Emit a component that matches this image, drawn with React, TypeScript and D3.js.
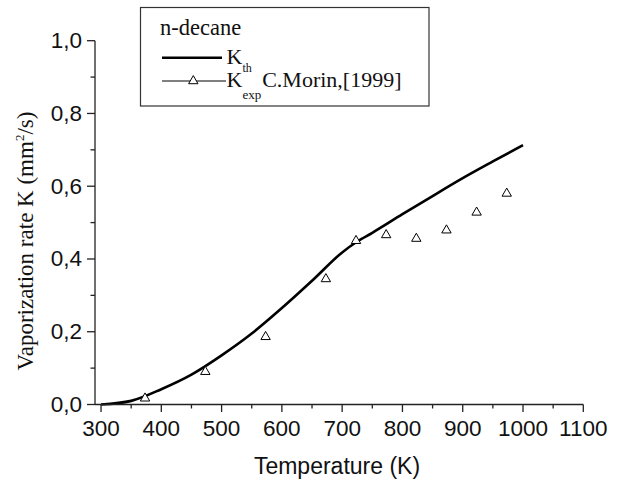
import * as d3 from "d3";

const W = 627;
const H = 481;

// theoretical vaporization rate K_th (mm²/s) vs temperature (K)
const thTemp = [300, 350, 400, 450, 500, 550, 600, 650, 700, 725, 750, 800, 850, 900, 950, 1000];
const thK = [0, 0.01, 0.042, 0.082, 0.135, 0.195, 0.265, 0.34, 0.418, 0.448, 0.472, 0.523, 0.573, 0.622, 0.668, 0.713];

// experimental points, C.Morin [1999]
const expTemp = [373, 473, 573, 673, 723, 773, 823, 873, 923, 973];
const expK = [0.017, 0.09, 0.186, 0.345, 0.45, 0.466, 0.456, 0.479, 0.528, 0.58];

const xMajor = [300, 400, 500, 600, 700, 800, 900, 1000, 1100];
const xMinor = [350, 450, 550, 650, 750, 850, 950, 1050];
const yMajor = [0, 0.2, 0.4, 0.6, 0.8, 1.0];
const yMinor = [0.1, 0.3, 0.5, 0.7, 0.9];

const sans = "'Liberation Sans', Arial, sans-serif";
const serif = "'Liberation Serif', 'Times New Roman', serif";
const axisColor = "#222";

export default function App() {
  const x = d3.scaleLinear().domain([290, 1100]).range([95, 583.3]);
  const y = d3.scaleLinear().domain([0, 1]).range([404.5, 40.7]);

  const line = d3
    .line<number>()
    .x((_, i) => x(thTemp[i]))
    .y((d) => y(d))
    .curve(d3.curveMonotoneX);

  const tri = d3.symbol(d3.symbolTriangle, 38)() as string;
  const fmt = (v: number) => v.toFixed(1).replace(".", ",");
  const x0 = x.range()[0];

  return (
    <svg width={W} height={H} style={{ position: "absolute", left: 0, top: 0, background: "#fff" }}>
      {/* curve + points */}
      <path d={line(thK) ?? ""} fill="none" stroke="#000" strokeWidth={2.6} strokeLinejoin="round" />
      {expK.map((k, i) => (
        <path key={i} d={tri} transform={`translate(${x(expTemp[i])},${y(k)})`} fill="#fff" stroke="#000" strokeWidth={1} />
      ))}

      {/* axes */}
      <line x1={x0} x2={x(1100)} y1={y(0)} y2={y(0)} stroke={axisColor} strokeWidth={1.3} />
      <line x1={x0} x2={x0} y1={y(0)} y2={y(1)} stroke={axisColor} strokeWidth={1.3} />
      {xMajor.map((t) => (
        <g key={t}>
          <line x1={x(t)} x2={x(t)} y1={y(0)} y2={y(0) + 7.5} stroke={axisColor} strokeWidth={1.3} />
          <text x={x(t)} y={436} textAnchor="middle" fontFamily={sans} fontSize={22.5} fill="#111">{t}</text>
        </g>
      ))}
      {xMinor.map((t) => (
        <line key={t} x1={x(t)} x2={x(t)} y1={y(0)} y2={y(0) + 4} stroke={axisColor} strokeWidth={1.3} />
      ))}
      {yMajor.map((v) => (
        <g key={v}>
          <line x1={x0 - 8} x2={x0} y1={y(v)} y2={y(v)} stroke={axisColor} strokeWidth={1.3} />
          <text x={82} y={y(v) + 7.5} textAnchor="end" fontFamily={sans} fontSize={22.5} fill="#111">{fmt(v)}</text>
        </g>
      ))}
      {yMinor.map((v) => (
        <line key={v} x1={x0 - 4.5} x2={x0} y1={y(v)} y2={y(v)} stroke={axisColor} strokeWidth={1.3} />
      ))}

      {/* axis titles */}
      <text x={337} y={473.5} textAnchor="middle" fontFamily={sans} fontSize={23} fill="#111">Temperature (K)</text>
      <text transform="translate(33,241) rotate(-90)" textAnchor="middle" fontFamily={serif} fontSize={23} fill="#111">
        Vaporization rate K (mm<tspan dy={-9} fontSize={13}>2</tspan><tspan dy={9}>/s)</tspan>
      </text>

      {/* legend */}
      <rect x={140.5} y={7.5} width={288.5} height={98.5} fill="#fff" stroke="#333" strokeWidth={1.2} />
      <text x={160} y={35} fontFamily={serif} fontSize={22.5} fill="#111">n-decane</text>
      <line x1={162} x2={222} y1={57.7} y2={57.7} stroke="#000" strokeWidth={2.6} />
      <text x={226.5} y={63.5} fontFamily={serif} fontSize={22} fill="#111">
        K<tspan dy={8} fontSize={12}>th</tspan>
      </text>
      <line x1={162} x2={226} y1={81} y2={81} stroke="#000" strokeWidth={1} />
      <path d={tri} transform="translate(193.3,81)" fill="#fff" stroke="#000" strokeWidth={1} />
      <text x={226.5} y={87} fontFamily={serif} fontSize={22} fill="#111">
        K<tspan dy={12} fontSize={13}>exp</tspan>
        <tspan dx={1} dy={-12}>C.Morin,[1999]</tspan>
      </text>
    </svg>
  );
}
